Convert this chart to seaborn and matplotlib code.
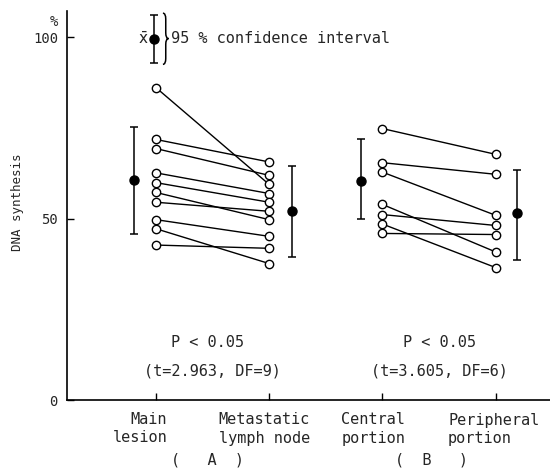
import numpy as np
import pandas as pd
import matplotlib
matplotlib.use("Agg")
import matplotlib.pyplot as plt
import matplotlib.transforms as mtransforms
from matplotlib.path import Path
from matplotlib.patches import PathPatch
import seaborn as sns

# Paired values (% DNA synthesis)
main_lesion = [86.1, 71.8, 69.3, 62.6, 59.9, 57.2, 54.5, 49.7, 47.2, 42.7]
metastatic_node = [59.4, 65.6, 61.9, 56.9, 54.5, 49.7, 52.0, 45.1, 37.6, 41.8]
central_portion = [74.8, 65.4, 62.8, 53.9, 51.1, 48.5, 45.9]
peripheral_portion = [67.7, 62.2, 50.9, 40.8, 48.1, 36.5, 45.6]

# Mean and 95 % confidence interval per site
site_means = [60.5, 52.0, 60.3, 51.6]
ci_low = [45.8, 39.4, 50.0, 38.7]
ci_high = [75.3, 64.5, 71.8, 63.5]

# Legend sample (mean with CI)
legend_mean = 99.6
legend_ci = [92.8, 106.1]

tick_labels = ["Main\nlesion", "Metastatic\nlymph node",
               "Central\nportion", "Peripheral\nportion"]
group_labels = ["(   A  )", "(  B   )"]

# Long-form table for the paired lines
rows = []
for pid, (a, b) in enumerate(zip(main_lesion, metastatic_node)):
    rows.append({"pair": f"A{pid}", "pos": 0, "value": a})
    rows.append({"pair": f"A{pid}", "pos": 1, "value": b})
for pid, (a, b) in enumerate(zip(central_portion, peripheral_portion)):
    rows.append({"pair": f"B{pid}", "pos": 2, "value": a})
    rows.append({"pair": f"B{pid}", "pos": 3, "value": b})
df = pd.DataFrame(rows)

sns.set_theme(style="ticks")
plt.rcParams["font.family"] = ["DejaVu Sans Mono"]
plt.rcParams["mathtext.fontset"] = "dejavusans"

fig = plt.figure(figsize=(5.5, 4.76), dpi=100)
ax = fig.add_axes([67 / 550, 76 / 476, 483 / 550, 389 / 476])

sns.lineplot(data=df, x="pos", y="value", units="pair", estimator=None,
             color="black", lw=1.0, ax=ax, legend=False, zorder=2)
sns.scatterplot(data=df, x="pos", y="value", marker="o", s=36,
                facecolor="white", edgecolor="black", linewidth=1.0,
                ax=ax, legend=False, zorder=3)

# means with CI, offset left/right of each column
mean_pos = np.array([-0.19, 1.2, 1.81, 3.19])
means = np.array(site_means)
yerr = [means - np.array(ci_low), np.array(ci_high) - means]
ax.errorbar(mean_pos, means, yerr=yerr, fmt="o", color="black", ms=6.5,
            capsize=2.8, elinewidth=1.1, capthick=1.1, zorder=4)

# legend sample at the top
ax.errorbar([-0.02], [legend_mean],
            yerr=[[legend_mean - legend_ci[0]], [legend_ci[1] - legend_mean]],
            fmt="o", color="black", ms=6.5, capsize=2.8, elinewidth=1.1,
            capthick=1.1, clip_on=False, zorder=4)
ax.text(-0.11, legend_mean, r"$\bar{\mathrm{x}}$", ha="center", va="center",
        fontsize=11)

# curly brace next to the legend sample
bx, bw, d = 0.062, 0.05, 1.6
top, bot, mid = legend_ci[1] + 0.5, legend_ci[0] - 0.3, legend_mean
verts = [(bx, top), (bx + bw / 2, top), (bx + bw / 2, top - d),
         (bx + bw / 2, mid + d),
         (bx + bw / 2, mid), (bx + bw, mid),
         (bx + bw / 2, mid), (bx + bw / 2, mid - d),
         (bx + bw / 2, bot + d),
         (bx + bw / 2, bot), (bx, bot)]
codes = [Path.MOVETO, Path.CURVE3, Path.CURVE3, Path.LINETO,
         Path.CURVE3, Path.CURVE3, Path.CURVE3, Path.CURVE3,
         Path.LINETO, Path.CURVE3, Path.CURVE3]
ax.add_patch(PathPatch(Path(verts, codes), facecolor="none",
                       edgecolor="black", lw=1.1, clip_on=False))
ax.text(0.13, legend_mean, "95 % confidence interval", ha="left",
        va="center", fontsize=11)

# test results
ax.text(0.46, 15.9, "P < 0.05", ha="center", va="center", fontsize=11)
ax.text(0.5, 8.1, "(t=2.963, DF=9)", ha="center", va="center", fontsize=11)
ax.text(2.5, 15.9, "P < 0.05", ha="center", va="center", fontsize=11)
ax.text(2.5, 8.1, "(t=3.605, DF=6)", ha="center", va="center", fontsize=11)

# group labels below axis
ax.text(0.455, -16.5, group_labels[0], ha="center", va="center",
        fontsize=11, clip_on=False)
ax.text(2.43, -16.5, group_labels[1], ha="center", va="center",
        fontsize=11, clip_on=False)

ax.set_xlim(-0.785, 3.48)
ax.set_ylim(0, 107.2)
ax.set_xticks([0, 1, 2, 3])
ax.set_xticklabels(tick_labels, fontsize=11, linespacing=1.25)
ax.set_yticks([0, 50, 100])
ax.set_yticklabels(["0", "50", "100"], fontsize=10)
ax.tick_params(axis="both", direction="in", length=5, width=1.0, color="black")
ax.tick_params(axis="y", pad=6.5)
ax.tick_params(axis="x", pad=9)

# per-label alignment as in the original
aligns = ["right", "right", "left", "left"]
shifts = [-16, -5, -9, -2]
for lab, ma, dx in zip(ax.get_xticklabels(), aligns, shifts):
    lab.set_multialignment(ma)
    lab.set_transform(lab.get_transform() +
                      mtransforms.ScaledTranslation(dx / 100, 0, fig.dpi_scale_trans))

ax.set_xlabel("")
ax.set_ylabel("DNA synthesis", fontsize=9)
ax.yaxis.set_label_coords(-0.089, 0.508)
fig.text(54 / 550, 1 - 22 / 476, "%", ha="center", va="center", fontsize=10)

for side in ["top", "right"]:
    ax.spines[side].set_visible(False)
for side in ["left", "bottom"]:
    ax.spines[side].set_color("black")
    ax.spines[side].set_linewidth(1.2)

fig.savefig("out.png", dpi=100, facecolor="white")
